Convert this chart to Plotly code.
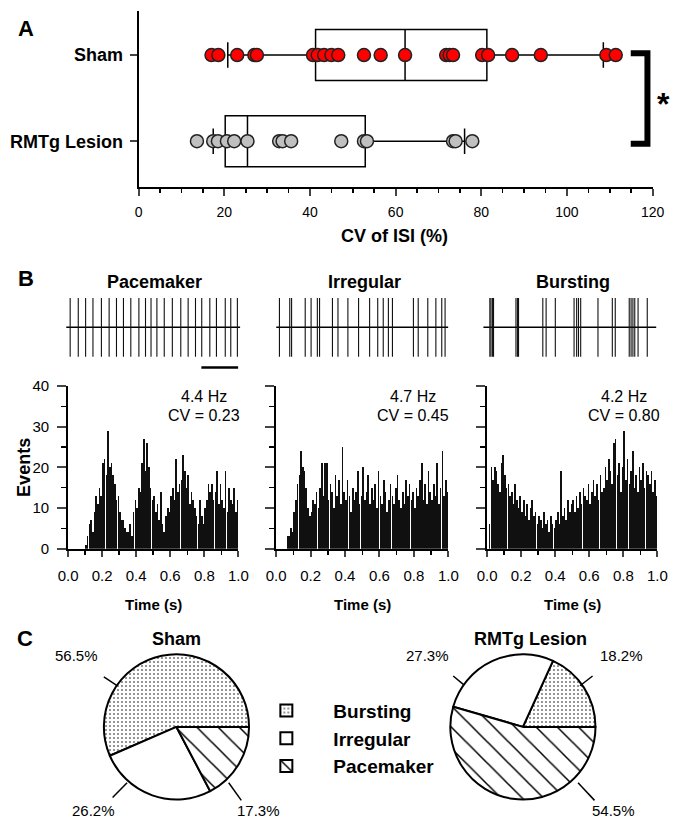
import plotly.graph_objects as go

W, H = 682, 826
FONT = "Arial, Liberation Sans, sans-serif"

# ---------------- Panel A data ----------------
sham_cv = [17.0, 18.6, 23.0, 27.0, 27.6, 40.7, 41.8, 43.3, 45.0, 46.6, 52.6, 56.5,
           62.2, 71.8, 72.6, 73.4, 80.2, 81.6, 87.2, 93.9, 109.2, 111.4]
rmtg_cv = [13.6, 17.4, 18.5, 20.6, 22.3, 25.4, 32.8, 33.6, 35.6, 47.3, 52.6, 53.3,
           73.4, 74.0, 77.9]
# box stats: lower whisker, q1, median, q3, upper whisker
sham_box = [20.8, 41.3, 62.2, 81.3, 108.5]
rmtg_box = [17.4, 20.2, 25.4, 52.9, 76.1]
group_labels = ["RMTg Lesion", "Sham"]
cv_ticks = [0, 20, 40, 60, 80, 100, 120]

# ---------------- Panel B data ----------------
pattern_names = ["Pacemaker", "Irregular", "Bursting"]
rate_text = ["4.4 Hz", "4.7 Hz", "4.2 Hz"]
cv_text = ["CV = 0.23", "CV = 0.45", "CV = 0.80"]

spikes_pacemaker = [0.11, 0.33, 0.53, 0.73, 0.96, 1.17, 1.37, 1.56, 1.76, 1.98, 2.16, 2.31,
                    2.47, 2.67, 2.89, 3.12, 3.32, 3.52, 3.69, 3.91, 4.09, 4.33, 4.48, 4.66]
spikes_irregular = [0.09, 0.37, 0.42, 0.79, 0.95, 1.12, 1.18, 1.53, 1.68, 1.95, 2.24, 2.54,
                    2.76, 2.91, 3.05, 3.16, 3.73, 3.86, 4.12, 4.34, 4.50, 4.59]
spikes_bursting = [0.18, 0.21, 0.25, 0.28, 0.89, 0.93, 0.96, 1.62, 1.71, 1.96, 2.47, 2.54,
                   2.59, 2.65, 3.12, 3.51, 3.59, 3.97, 4.02, 4.07, 4.12, 4.21, 4.46]
trace_span = [4.74, 4.68, 4.71]
scale_bar_s = 1.0

hist_pacemaker = [0, 0, 0, 0, 0, 0, 0, 0, 0, 0,
                  1, 3, 6, 7, 4, 9, 13, 11, 15, 13,
                  21, 22, 18, 29, 20, 21, 18, 16, 12, 13,
                  9, 7, 7, 5, 4, 4, 6, 3, 9, 12,
                  10, 15, 14, 21, 27, 19, 26, 20, 15, 12,
                  13, 9, 11, 7, 14, 6, 4, 8, 10, 9,
                  13, 15, 12, 22, 14, 16, 17, 23, 19, 15,
                  18, 11, 14, 12, 10, 8, 6, 12, 8, 6,
                  10, 12, 16, 14, 16, 12, 14, 19, 11, 16,
                  12, 10, 19, 9, 15, 12, 11, 15, 9, 12]
hist_irregular = [0, 0, 0, 0, 0, 0, 3, 3, 5, 4,
                  9, 12, 16, 18, 24, 20, 19, 15, 10, 8,
                  9, 12, 11, 14, 10, 15, 21, 13, 21, 21,
                  12, 16, 14, 10, 18, 13, 17, 11, 25, 14,
                  12, 17, 13, 9, 15, 12, 14, 19, 11, 13,
                  20, 12, 14, 18, 11, 15, 12, 16, 10, 19,
                  13, 11, 17, 14, 9, 12, 16, 13, 11, 15,
                  18, 12, 10, 14, 11, 17, 13, 16, 12, 14,
                  10, 15, 13, 17, 21, 12, 16, 11, 19, 14,
                  12, 16, 13, 21, 11, 15, 24, 13, 17, 14]
hist_bursting = [0, 6, 20, 17, 20, 19, 16, 14, 21, 23,
                 18, 15, 16, 13, 14, 11, 16, 12, 10, 13,
                 9, 12, 8, 11, 7, 10, 12, 8, 9, 6,
                 8, 7, 5, 9, 6, 7, 4, 8, 6, 5,
                 7, 9, 6, 19, 8, 10, 7, 12, 9, 11,
                 12, 9, 13, 10, 14, 11, 15, 13, 12, 16,
                 11, 14, 17, 13, 16, 12, 18, 14, 15, 20,
                 17, 22, 19, 16, 26, 27, 18, 21, 14, 20,
                 29, 17, 22, 16, 19, 24, 15, 18, 14, 20,
                 17, 21, 15, 19, 18, 16, 19, 14, 17, 13]
bin_width = 0.01

# ---------------- Panel C data ----------------
pie_labels = ["Bursting", "Irregular", "Pacemaker"]
sham_pct = [56.5, 26.2, 17.3]
rmtg_pct = [18.2, 27.3, 54.5]
pie_titles = ["Sham", "RMTg Lesion"]


def px(x):
    return x / W


def py(y):
    return 1 - y / H


def txt(x, y, text, size, bold=False, **kw):
    return dict(x=px(x), y=py(y), xref="paper", yref="paper",
                xanchor="center", yanchor="middle",
                text=("<b>%s</b>" % text) if bold else text, showarrow=False,
                font=dict(size=size, color="black", family=FONT), **kw)


fig = go.Figure()
annotations = []
shapes = []

# ================= Panel A =================
for pos, stats in [(1, sham_box), (0, rmtg_box)]:
    fig.add_trace(go.Box(
        y=[pos], orientation="h",
        lowerfence=[stats[0]], q1=[stats[1]], median=[stats[2]],
        q3=[stats[3]], upperfence=[stats[4]],
        width=0.59, whiskerwidth=0.5, boxpoints=False,
        fillcolor="rgba(0,0,0,0)", line=dict(color="black", width=1.5),
        xaxis="x", yaxis="y", showlegend=False, hoverinfo="skip"))

fig.add_trace(go.Scatter(
    x=sham_cv, y=[1] * len(sham_cv), mode="markers",
    marker=dict(size=13, color="#ff0000", line=dict(color="#222", width=1.5)),
    xaxis="x", yaxis="y", showlegend=False))
fig.add_trace(go.Scatter(
    x=rmtg_cv, y=[0] * len(rmtg_cv), mode="markers",
    marker=dict(size=13, color="#c0c0c0", line=dict(color="#222", width=1.5)),
    xaxis="x", yaxis="y", showlegend=False))

# significance bracket
shapes.append(dict(type="path", xref="x", yref="y",
                   path="M 114.9,1.02 L 118.8,1.02 L 118.8,-0.03 L 114.9,-0.03",
                   line=dict(color="black", width=6)))
annotations.append(txt(675, 97, "*", 32, bold=True))
annotations.append(txt(397, 232, "CV of ISI (%)", 18, bold=True))
annotations.append(txt(17, 20, "A", 22, bold=True))

layout_axes = dict(
    xaxis=dict(domain=[px(133), px(664)], range=[0, 120], anchor="y", tickvals=cv_ticks,
               ticks="outside", ticklen=7, tickwidth=2, showline=True, linewidth=2,
               linecolor="black", showgrid=False, zeroline=False, ticklabelstandoff=4,
               tickfont=dict(size=14, color="black", family=FONT),
               minor=dict(dtick=5, ticks="outside", ticklen=4, tickwidth=1.5,
                          tickcolor="black", showgrid=False)),
    yaxis=dict(domain=[py(182), py(2)], range=[-0.534, 1.511], anchor="x", tickvals=[0, 1],
               ticktext=["<b>" + t + "</b>" for t in group_labels],
               ticks="outside", ticklen=7, tickwidth=2, showline=True, linewidth=2,
               linecolor="black", showgrid=False, zeroline=False, ticklabelstandoff=3,
               tickfont=dict(size=18, color="black", family=FONT)),
)

# ================= Panel B =================
hist_sets = [hist_pacemaker, hist_irregular, hist_bursting]
spike_sets = [spikes_pacemaker, spikes_irregular, spikes_bursting]
hist_dom = [(60, 236), (275, 453), (493, 669)]
trace_dom = [(58, 238), (275, 453), (489, 668)]
title_cx = [149, 366, 582]
note_cx = [200, 416, 634]
bin_centers = [i * bin_width + bin_width / 2 for i in range(100)]

for i in range(3):
    hx = "x%d" % (i + 2)
    hy = "y%d" % (i + 2)
    fig.add_trace(go.Bar(x=bin_centers, y=hist_sets[i], width=bin_width * 0.95,
                         marker=dict(color="#101010", line=dict(width=0)),
                         xaxis=hx, yaxis=hy, showlegend=False))
    layout_axes["xaxis%d" % (i + 2)] = dict(
        domain=[px(hist_dom[i][0]), px(hist_dom[i][1])], range=[0, 1], anchor=hy,
        tickvals=[0, 0.2, 0.4, 0.6, 0.8, 1.0], tickformat=".1f",
        ticks="outside", ticklen=6, tickwidth=2, showline=True, linewidth=2,
        linecolor="black", showgrid=False, zeroline=False, ticklabelstandoff=6,
        tickfont=dict(size=15, color="black", family=FONT),
        minor=dict(dtick=0.1, ticks="outside", ticklen=4, tickwidth=1.5,
                   tickcolor="black", showgrid=False))
    layout_axes["yaxis%d" % (i + 2)] = dict(
        domain=[py(551), py(385)], range=[0, 40], anchor=hx, dtick=10,
        ticks="outside", ticklen=9, tickwidth=2, showline=True, linewidth=2,
        linecolor="black", showgrid=False, zeroline=False, showticklabels=(i == 0),
        ticklabelstandoff=5,
        tickfont=dict(size=15, color="black", family=FONT),
        minor=dict(dtick=5, ticks="outside", ticklen=5, tickwidth=1.5,
                   tickcolor="black", showgrid=False))
    cx = (hist_dom[i][0] + hist_dom[i][1]) / 2
    annotations.append(txt(cx, 608, "Time (s)", 15, bold=True))
    annotations.append(txt(note_cx[i], 396, rate_text[i], 16))
    annotations.append(txt(note_cx[i], 415, cv_text[i], 16))

    # spike trains
    tx = "x%d" % (i + 5)
    ty = "y%d" % (i + 5)
    xs, ys = [], []
    for t in spike_sets[i]:
        xs += [t, t, None]
        ys += [-1, 1, None]
    fig.add_trace(go.Scatter(x=[0, trace_span[i]], y=[0, 0], mode="lines",
                             line=dict(color="black", width=1.5),
                             xaxis=tx, yaxis=ty, showlegend=False))
    fig.add_trace(go.Scatter(x=xs, y=ys, mode="lines", line=dict(color="#111", width=1.1),
                             xaxis=tx, yaxis=ty, showlegend=False))
    if i == 0:
        fig.add_trace(go.Scatter(x=[trace_span[i] - 0.06 - scale_bar_s, trace_span[i] - 0.06],
                                 y=[-1.37, -1.37], mode="lines",
                                 line=dict(color="black", width=2.5),
                                 xaxis=tx, yaxis=ty, showlegend=False))
    layout_axes["xaxis%d" % (i + 5)] = dict(
        domain=[px(trace_dom[i][0]), px(trace_dom[i][1])], range=[0, trace_span[i]],
        anchor=ty, visible=False)
    layout_axes["yaxis%d" % (i + 5)] = dict(
        domain=[py(370), py(290)], range=[-1.5, 1.167], anchor=tx, visible=False)
    annotations.append(txt(title_cx[i], 279, pattern_names[i], 18, bold=True))

annotations.append(txt(15, 468, "Events", 18, bold=True, textangle=-90))
annotations.append(txt(17, 275, "B", 22, bold=True))

# ================= Panel C =================
pie_centers = [(172, 733), (530, 733)]
pie_r = 75
for k, vals in enumerate([sham_pct, rmtg_pct]):
    cx, cy = pie_centers[k]
    # first slice starts at 3 o'clock and runs counter-clockwise
    rot = 90 - 360.0 * vals[0] / sum(vals)
    fig.add_trace(go.Pie(
        labels=pie_labels, values=vals, sort=False, direction="counterclockwise",
        rotation=rot, textinfo="none", hoverinfo="label+percent",
        domain=dict(x=[px(cx - pie_r), px(cx + pie_r)], y=[py(cy + pie_r), py(cy - pie_r)]),
        marker=dict(colors=["white", "white", "white"],
                    line=dict(color="black", width=2),
                    pattern=dict(shape=[".", "", "\\"], size=[4, 8, 15],
                                 solidity=[0.12, 0.1, 0.1], fgcolor="black",
                                 bgcolor="white", fillmode="replace")),
        showlegend=(k == 0)))
    annotations.append(txt([172, 538][k], 643, pie_titles[k], 18, bold=True))

# percentage labels with leader lines
pct_labels = [
    ("56.5%", (69, 660), (97, 682), (111, 691)),
    ("26.2%", (86, 818), (106, 805), (121, 790)),
    ("17.3%", (257, 818), (239, 808), (226, 790)),
    ("27.3%", (431, 660), (458, 681), (469, 690)),
    ("18.2%", (632, 660), (602, 681), (589, 691)),
    ("54.5%", (624, 818), (604, 808), (587, 790)),
]
for label, (lx, ly), (a1x, a1y), (a2x, a2y) in pct_labels:
    annotations.append(txt(lx, ly, label, 15))
    shapes.append(dict(type="line", xref="paper", yref="paper",
                       x0=px(a1x), y0=py(a1y), x1=px(a2x), y1=py(a2y),
                       line=dict(color="black", width=1.5)))

annotations.append(txt(15, 643, "C", 22, bold=True))

fig.update_layout(
    width=W, height=H, margin=dict(l=0, r=0, t=0, b=0),
    paper_bgcolor="white", plot_bgcolor="white",
    font=dict(family=FONT, color="black"),
    bargap=0,
    annotations=annotations, shapes=shapes,
    legend=dict(x=px(237), y=py(697), xanchor="left", yanchor="top",
                font=dict(size=19, color="black", family=FONT, weight="bold"),
                bgcolor="rgba(0,0,0,0)", itemwidth=84, tracegroupgap=0),
    **layout_axes,
)

fig.write_html("out.html",
               config={"displayModeBar": False, "staticPlot": True},
               post_script="document.body.style.margin='0px';"
                           "document.body.style.overflow='hidden';")
